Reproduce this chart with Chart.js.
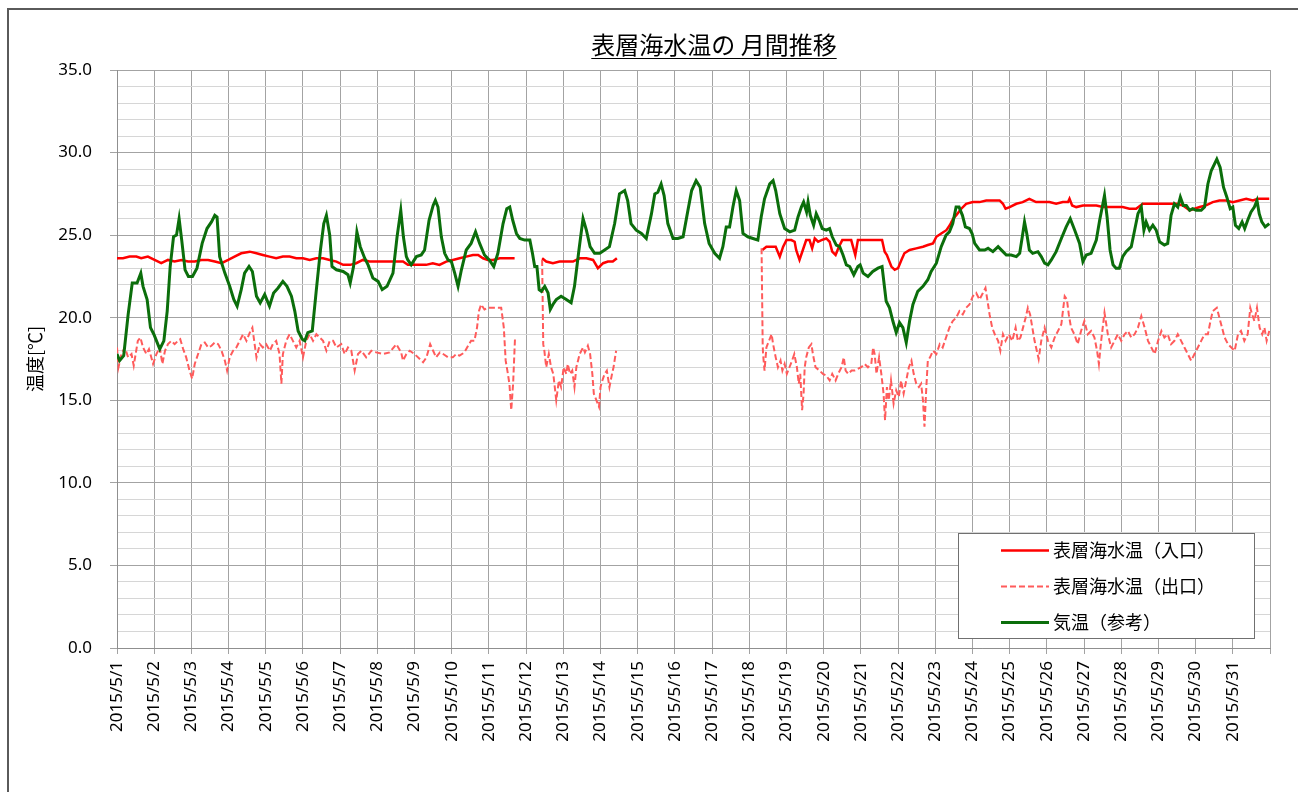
<!DOCTYPE html>
<html lang="ja">
<head>
<meta charset="utf-8">
<title>表層海水温の月間推移</title>
<script src="https://cdn.jsdelivr.net/npm/chart.js@4.4.1/dist/chart.umd.min.js"></script>
<style>
  html, body { margin: 0; padding: 0; background: #fff; }
  #frame { position: absolute; left: 7px; top: 8px; width: 1291px; height: 784px;
           border-left: 2px solid #5a5a5a; border-top: 2px solid #5a5a5a; box-sizing: border-box; }
  #wrap { position: absolute; left: 0; top: 0; width: 1298px; height: 792px; }
</style>
</head>
<body>
<div id="frame"></div>
<div id="wrap"><canvas id="chart" width="1298" height="792"></canvas></div>
<script>
// Chart text
const TITLE = "表層海水温の 月間推移";
const Y_TITLE = "温度[℃]";
const SERIES_NAMES = ["表層海水温（入口）", "表層海水温（出口）", "気温（参考）"];
const DAY_COUNT = 31;   // 2015/5/1 .. 2015/5/31
const Y_MAX = 35;

// x values are days elapsed since 2015/5/1 00:00 (null value = no data)
// 1. Inlet surface water temperature (red, solid)
const inletDays = [
  0.00, 0.16, 0.34, 0.52, 0.65, 0.83, 1.01, 1.19, 1.37, 1.55, 1.73, 1.91, 2.09, 2.27, 2.45, 2.63, 2.81, 2.99,
  3.16, 3.34, 3.57, 3.75, 3.92, 4.10, 4.28, 4.46, 4.64, 4.82, 5.00, 5.18, 5.36, 5.54, 5.72, 5.90, 6.08, 6.27,
  6.43, 6.61, 6.79, 6.97, 7.15, 7.33, 7.51, 7.69, 7.82, 7.96, 8.14, 8.31, 8.49, 8.67, 8.85, 9.03, 9.21, 9.39,
  9.57, 9.71, 9.84, 9.97, 10.11, 10.29, 10.47, 10.69,
  11.00,
  11.43, 11.54, 11.72, 11.90, 12.08, 12.26, 12.44, 12.62, 12.80, 12.93, 13.07, 13.20, 13.33, 13.44,
  15.00,
  17.35, 17.46, 17.60, 17.71, 17.82, 17.91, 18.00, 18.13, 18.22, 18.26, 18.35, 18.44, 18.53, 18.62, 18.69,
  18.76, 18.85, 18.94, 19.07, 19.16, 19.23, 19.32, 19.41, 19.50, 19.61, 19.74, 19.85, 19.92, 20.06, 20.24,
  20.41, 20.57, 20.64, 20.70, 20.75, 20.82, 20.91, 21.00, 21.09, 21.17, 21.31, 21.49, 21.67, 21.80, 21.94,
  22.03, 22.16, 22.30, 22.39, 22.48, 22.56, 22.70, 22.83, 23.01, 23.19, 23.37, 23.55, 23.73, 23.82, 23.89,
  24.00, 24.18, 24.35, 24.53, 24.71, 24.90, 25.07, 25.25, 25.43, 25.57, 25.61, 25.68, 25.79, 25.97, 26.15,
  26.33, 26.51, 26.69, 26.86, 27.04, 27.22, 27.40, 27.58, 27.76, 27.94, 28.12, 28.30, 28.48, 28.66, 28.84,
  28.97, 29.11, 29.28, 29.46, 29.64, 29.82, 30.00, 30.18, 30.36, 30.54, 30.67, 30.81, 30.90, 30.98
];
const inletTemp = [
  23.6, 23.6, 23.7, 23.7, 23.6, 23.7, 23.5, 23.3, 23.5, 23.4, 23.5, 23.4, 23.4, 23.5, 23.5, 23.4, 23.3, 23.5,
  23.7, 23.9, 24.0, 23.9, 23.8, 23.7, 23.6, 23.7, 23.7, 23.6, 23.6, 23.5, 23.6, 23.6, 23.5, 23.4, 23.2, 23.2,
  23.3, 23.5, 23.4, 23.4, 23.4, 23.4, 23.4, 23.4, 23.2, 23.2, 23.2, 23.2, 23.3, 23.2, 23.4, 23.5, 23.6, 23.7,
  23.8, 23.8, 23.6, 23.5, 23.5, 23.6, 23.6, 23.6,
  null,
  23.6, 23.4, 23.3, 23.4, 23.4, 23.4, 23.6, 23.6, 23.5, 23.0, 23.3, 23.4, 23.4, 23.6,
  null,
  24.1, 24.3, 24.3, 24.3, 23.7, 24.3, 24.7, 24.7, 24.6, 24.1, 23.5, 24.1, 24.7, 24.7, 24.2,
  24.8, 24.6, 24.7, 24.8, 24.6, 24.0, 23.8, 24.3, 24.7, 24.7, 24.7, 23.8, 24.7, 24.7, 24.7,
  24.7, 24.7, 24.0, 23.8, 23.5, 23.1, 22.9, 23.0, 23.5, 23.9, 24.1, 24.2, 24.3, 24.4, 24.5,
  24.9, 25.1, 25.3, 25.6, 26.0, 26.2, 26.6, 26.9, 27.0, 27.0, 27.1, 27.1, 27.1, 26.9, 26.6,
  26.7, 26.9, 27.0, 27.2, 27.0, 27.0, 27.0, 26.9, 27.0, 27.0, 27.2, 26.8, 26.7, 26.8, 26.8,
  26.8, 26.7, 26.7, 26.7, 26.7, 26.6, 26.6, 26.9, 26.9, 26.9, 26.9, 26.9, 26.9, 26.8, 26.5,
  26.6, 26.7, 26.8, 27.0, 27.1, 27.1, 27.0, 27.1, 27.2, 27.1, 27.2, 27.2, 27.2, 27.2
];

// 2. Outlet surface water temperature (pink, dashed)
const outletDays = [
  0.00, 0.04, 0.12, 0.21, 0.30, 0.39, 0.45, 0.56, 0.63, 0.70, 0.79, 0.86, 0.97, 1.06, 1.15, 1.22, 1.29, 1.37,
  1.46, 1.55, 1.64, 1.70, 1.78, 1.86, 1.95, 2.02, 2.09, 2.18, 2.27, 2.36, 2.45, 2.54, 2.63, 2.72, 2.81, 2.90,
  2.96, 3.03, 3.12, 3.21, 3.30, 3.39, 3.48, 3.57, 3.64, 3.70, 3.75, 3.84, 3.92, 4.01, 4.11, 4.19, 4.28, 4.37,
  4.42, 4.46, 4.55, 4.64, 4.73, 4.82, 4.91, 5.00, 5.09, 5.18, 5.27, 5.36, 5.45, 5.54, 5.63, 5.72, 5.81, 5.90,
  6.03, 6.12, 6.21, 6.30, 6.39, 6.48, 6.57, 6.70, 6.84, 6.97, 7.15, 7.33, 7.51, 7.64, 7.69, 7.78, 7.87, 8.00,
  8.14, 8.23, 8.32, 8.42, 8.50, 8.58, 8.68, 8.77, 8.90, 9.03, 9.12, 9.21, 9.34, 9.44, 9.52, 9.61, 9.68, 9.73,
  9.79, 9.88, 9.97, 10.11, 10.24, 10.33, 10.40, 10.45, 10.51, 10.55, 10.60, 10.65, 10.70,
  11.00,
  11.43, 11.46, 11.49, 11.54, 11.61, 11.67, 11.73, 11.81, 11.88, 11.94, 12.01, 12.08, 12.12, 12.18, 12.24,
  12.30, 12.35, 12.44, 12.53, 12.58, 12.66, 12.72, 12.78, 12.82, 12.89, 12.96, 13.00, 13.05, 13.11, 13.17,
  13.24, 13.31, 13.35, 13.42,
  15.00,
  17.33, 17.36, 17.37, 17.41, 17.46, 17.53, 17.60, 17.64, 17.71, 17.77, 17.84, 17.89, 17.95, 18.01, 18.08,
  18.15, 18.21, 18.28, 18.33, 18.37, 18.42, 18.46, 18.49, 18.53, 18.60, 18.67, 18.71, 18.78, 18.89, 18.98,
  19.07, 19.16, 19.23, 19.32, 19.39, 19.48, 19.54, 19.59, 19.66, 19.75, 19.83, 19.92, 20.01, 20.10, 20.19,
  20.28, 20.33, 20.37, 20.42, 20.49, 20.55, 20.61, 20.65, 20.70, 20.75, 20.81, 20.88, 20.95, 21.02, 21.08,
  21.15, 21.22, 21.29, 21.36, 21.42, 21.49, 21.56, 21.62, 21.67, 21.71, 21.76, 21.80, 21.86, 21.94, 22.03,
  22.12, 22.20, 22.29, 22.38, 22.47, 22.56, 22.65, 22.74, 22.83, 22.92, 23.01, 23.10, 23.19, 23.28, 23.35,
  23.42, 23.46, 23.53, 23.60, 23.69, 23.75, 23.82, 23.89, 23.98, 24.07, 24.16, 24.22, 24.29, 24.36, 24.43,
  24.49, 24.55, 24.61, 24.67, 24.73, 24.78, 24.85, 24.94, 25.03, 25.12, 25.21, 25.30, 25.39, 25.48, 25.54,
  25.59, 25.65, 25.74, 25.83, 25.92, 26.01, 26.10, 26.19, 26.28, 26.35, 26.40, 26.46, 26.55, 26.64, 26.73,
  26.82, 26.91, 27.00, 27.09, 27.18, 27.27, 27.36, 27.45, 27.54, 27.63, 27.72, 27.81, 27.90, 27.99, 28.08,
  28.16, 28.25, 28.34, 28.43, 28.52, 28.61, 28.70, 28.79, 28.88, 28.97, 29.06, 29.15, 29.24, 29.33, 29.40,
  29.46, 29.57, 29.64, 29.71, 29.78, 29.87, 29.96, 30.05, 30.14, 30.22, 30.31, 30.40, 30.47, 30.52, 30.58,
  30.65, 30.72, 30.79, 30.85, 30.91, 30.98
];
const outletTemp = [
  18.2, 17.0, 17.8, 18.2, 17.6, 17.8, 17.1, 18.6, 18.8, 18.2, 17.8, 18.1, 17.2, 17.8, 18.2, 17.2, 18.0, 18.4,
  18.6, 18.4, 18.6, 18.7, 18.1, 17.6, 16.8, 16.3, 17.2, 17.8, 18.4, 18.5, 18.2, 18.3, 18.5, 18.4, 18.0, 17.4,
  16.8, 17.6, 18.0, 18.2, 18.6, 19.0, 18.6, 19.1, 19.4, 18.4, 17.6, 18.4, 18.2, 18.4, 18.0, 18.4, 18.6, 17.8,
  16.0, 17.8, 18.6, 19.0, 18.6, 18.2, 18.6, 17.6, 18.6, 19.0, 18.6, 19.0, 18.8, 18.6, 18.0, 18.6, 18.6, 18.2,
  18.4, 17.8, 18.2, 18.0, 16.8, 17.8, 18.0, 17.6, 18.0, 17.9, 17.8, 17.9, 18.4, 17.9, 17.4, 17.8, 18.0, 17.8,
  17.5, 17.3, 17.6, 18.4, 18.0, 17.6, 17.9, 17.8, 17.6, 17.6, 17.8, 17.7, 17.9, 18.3, 18.6, 18.6, 19.4, 20.4,
  20.8, 20.5, 20.6, 20.6, 20.6, 20.6, 19.4, 17.4, 16.6, 16.0, 14.4, 16.0, 18.7,
  null,
  23.5, 18.4, 18.0, 17.0, 17.8, 17.0, 16.6, 15.0, 16.2, 15.8, 17.0, 16.6, 17.2, 16.6, 16.8,
  15.8, 17.0, 17.8, 18.2, 17.9, 18.3, 17.8, 16.6, 15.4, 15.0, 14.6, 15.8, 16.2, 16.6, 16.8,
  15.8, 16.6, 17.0, 18.0,
  null,
  24.2, 18.4, 17.8, 16.8, 18.2, 18.6, 19.0, 18.4, 17.6, 17.0, 17.4, 16.8, 17.2, 16.6, 17.0,
  17.4, 17.8, 17.0, 16.0, 16.6, 14.4, 15.4, 17.0, 17.6, 18.2, 18.4, 17.8, 17.0, 16.8, 16.6,
  16.5, 16.2, 16.6, 16.2, 16.6, 17.0, 17.6, 16.8, 16.6, 16.8, 16.8, 16.9, 17.0, 17.2, 17.0,
  17.2, 18.2, 17.8, 16.6, 17.6, 16.6, 15.4, 13.8, 15.8, 15.0, 16.2, 14.8, 15.6, 15.2, 16.2,
  15.4, 16.2, 17.0, 17.4, 16.6, 16.0, 15.8, 16.0, 15.0, 13.4, 15.8, 17.4, 17.6, 18.0, 17.8,
  18.4, 18.2, 18.8, 19.4, 19.8, 20.0, 20.4, 20.2, 20.6, 20.8, 21.3, 21.5, 21.1, 21.5, 21.8,
  20.8, 20.2, 19.4, 19.0, 18.6, 18.0, 19.0, 18.6, 19.0, 18.6, 19.4, 18.6, 18.8, 19.4, 20.0,
  20.6, 20.2, 19.4, 18.6, 18.0, 17.5, 18.6, 19.4, 18.6, 18.2, 18.8, 19.2, 19.6, 21.3, 21.1,
  20.2, 19.4, 19.0, 18.4, 19.2, 19.8, 19.0, 19.2, 18.8, 18.0, 17.2, 18.6, 20.3, 19.0, 18.2,
  18.6, 19.0, 18.6, 19.0, 19.2, 18.8, 19.0, 19.4, 20.1, 19.4, 18.6, 18.2, 17.8, 18.6, 19.2,
  18.8, 19.0, 18.4, 18.6, 19.0, 18.6, 18.2, 17.8, 17.4, 17.8, 18.2, 18.6, 19.0, 19.0, 19.8,
  20.4, 20.6, 20.0, 19.4, 18.8, 18.4, 18.2, 18.0, 19.0, 19.2, 18.6, 19.0, 20.6, 20.2, 19.8,
  20.6, 19.4, 19.0, 19.4, 18.6, 19.2
];

// 3. Air temperature (green, solid)
const airDays = [
  0.00, 0.07, 0.18, 0.30, 0.41, 0.54, 0.64, 0.70, 0.81, 0.90, 0.99, 1.15, 1.26, 1.35, 1.43, 1.52, 1.60, 1.67,
  1.74, 1.83, 1.92, 2.03, 2.15, 2.29, 2.42, 2.54, 2.63, 2.69, 2.76, 2.90, 3.03, 3.14, 3.23, 3.34, 3.43, 3.55,
  3.64, 3.75, 3.85, 3.97, 4.10, 4.21, 4.33, 4.46, 4.57, 4.69, 4.78, 4.87, 4.98, 5.05, 5.13, 5.25, 5.36, 5.47,
  5.56, 5.63, 5.72, 5.78, 5.90, 6.08, 6.21, 6.27, 6.36, 6.45, 6.54, 6.66, 6.75, 6.88, 7.02, 7.13, 7.26, 7.42,
  7.53, 7.63, 7.70, 7.78, 7.82, 7.91, 8.05, 8.18, 8.27, 8.39, 8.50, 8.56, 8.63, 8.72, 8.81, 8.90, 8.99, 9.08,
  9.17, 9.26, 9.39, 9.52, 9.64, 9.75, 9.88, 10.01, 10.13, 10.24, 10.38, 10.48, 10.56, 10.64, 10.74, 10.83, 10.96, 11.10,
  11.17, 11.23, 11.29, 11.35, 11.41, 11.50, 11.59, 11.65, 11.72, 11.81, 11.94, 12.08, 12.21, 12.30, 12.42, 12.53, 12.62, 12.72,
  12.84, 12.98, 13.11, 13.24, 13.38, 13.51, 13.65, 13.73, 13.82, 13.96, 14.10, 14.23, 14.37, 14.46, 14.54, 14.63, 14.71, 14.81,
  14.95, 15.08, 15.22, 15.35, 15.45, 15.57, 15.68, 15.80, 15.92, 16.07, 16.20, 16.29, 16.38, 16.47, 16.56, 16.65, 16.74, 16.83,
  16.96, 17.10, 17.23, 17.32, 17.41, 17.55, 17.64, 17.71, 17.82, 17.95, 18.09, 18.22, 18.31, 18.40, 18.46, 18.54, 18.58, 18.64,
  18.73, 18.80, 18.88, 18.96, 19.07, 19.16, 19.23, 19.34, 19.43, 19.52, 19.61, 19.70, 19.81, 19.92, 19.98, 20.06, 20.19, 20.32,
  20.46, 20.57, 20.68, 20.77, 20.86, 20.95, 21.04, 21.13, 21.22, 21.31, 21.40, 21.53, 21.67, 21.80, 21.89, 22.03, 22.16, 22.29,
  22.38, 22.47, 22.56, 22.64, 22.73, 22.81, 22.92, 22.99, 23.06, 23.19, 23.33, 23.42, 23.55, 23.69, 23.82, 23.91, 24.04, 24.18,
  24.27, 24.34, 24.40, 24.46, 24.53, 24.62, 24.76, 24.85, 24.94, 25.03, 25.12, 25.25, 25.39, 25.52, 25.63, 25.75, 25.88, 25.97,
  26.06, 26.19, 26.33, 26.42, 26.49, 26.55, 26.62, 26.70, 26.78, 26.86, 26.95, 27.04, 27.13, 27.27, 27.36, 27.45, 27.54, 27.61,
  27.67, 27.76, 27.85, 27.94, 28.03, 28.16, 28.25, 28.34, 28.43, 28.52, 28.59, 28.67, 28.75, 28.84, 28.92, 29.01, 29.15, 29.24,
  29.33, 29.42, 29.57, 29.66, 29.75, 29.84, 29.93, 30.00, 30.07, 30.16, 30.25, 30.32, 30.40, 30.49, 30.58, 30.65, 30.71, 30.78,
  30.87, 30.98
];
const airTemp = [
  17.8, 17.4, 17.7, 20.2, 22.1, 22.1, 22.7, 21.9, 21.1, 19.4, 19.0, 18.1, 18.6, 20.4, 23.1, 24.9, 25.0, 26.0,
  24.7, 22.9, 22.5, 22.5, 23.0, 24.5, 25.4, 25.8, 26.2, 26.1, 23.7, 22.7, 21.9, 21.1, 20.7, 21.7, 22.7, 23.1,
  22.8, 21.3, 20.9, 21.4, 20.7, 21.5, 21.8, 22.2, 21.9, 21.3, 20.4, 19.2, 18.7, 18.6, 19.1, 19.2, 21.7, 24.1,
  25.7, 26.2, 25.0, 23.1, 22.9, 22.8, 22.6, 22.1, 23.1, 25.2, 24.3, 23.6, 23.2, 22.4, 22.2, 21.7, 21.9, 22.7,
  24.9, 26.5, 24.9, 23.7, 23.5, 23.2, 23.7, 23.8, 24.1, 25.9, 26.8, 27.1, 26.7, 24.9, 23.9, 23.5, 23.4, 22.7,
  21.9, 22.9, 24.1, 24.5, 25.2, 24.5, 23.8, 23.5, 23.1, 23.9, 25.7, 26.6, 26.7, 25.9, 25.1, 24.8, 24.7, 24.7,
  23.9, 23.1, 23.1, 21.7, 21.6, 21.9, 21.5, 20.5, 20.8, 21.1, 21.3, 21.1, 20.9, 21.9, 24.1, 26.0, 25.3, 24.3,
  23.9, 23.9, 24.1, 24.3, 25.7, 27.5, 27.7, 27.1, 25.7, 25.3, 25.1, 24.8, 26.3, 27.5, 27.6, 28.1, 27.4, 25.7,
  24.8, 24.8, 24.9, 26.5, 27.7, 28.3, 27.9, 25.7, 24.5, 23.9, 23.6, 24.3, 25.5, 25.5, 26.7, 27.7, 27.1, 25.1,
  24.9, 24.8, 24.7, 26.1, 27.2, 28.1, 28.3, 27.7, 26.3, 25.4, 25.2, 25.3, 26.1, 26.7, 27.0, 26.4, 27.0, 26.2,
  25.6, 26.3, 25.9, 25.4, 25.3, 25.4, 24.9, 24.4, 24.3, 23.8, 23.2, 23.1, 22.6, 23.1, 23.2, 22.7, 22.5, 22.8,
  23.0, 23.1, 21.0, 20.6, 19.8, 19.1, 19.7, 19.4, 18.5, 19.8, 20.8, 21.6, 21.9, 22.3, 22.8, 23.3, 24.3, 25.0,
  25.2, 25.7, 26.7, 26.7, 26.2, 25.5, 25.4, 25.1, 24.5, 24.1, 24.1, 24.2, 24.0, 24.3, 24.0, 23.8, 23.8, 23.7,
  23.9, 24.9, 25.8, 25.1, 24.1, 23.9, 24.0, 23.7, 23.3, 23.2, 23.5, 24.0, 24.8, 25.5, 26.0, 25.3, 24.5, 23.4,
  23.8, 23.9, 24.7, 25.9, 26.7, 27.4, 26.1, 24.1, 23.2, 23.0, 23.0, 23.7, 24.0, 24.3, 25.3, 26.3, 26.7, 25.3,
  25.8, 25.3, 25.6, 25.3, 24.6, 24.4, 24.5, 26.2, 26.9, 26.7, 27.3, 26.8, 26.8, 26.5, 26.6, 26.5, 26.5, 26.7,
  28.1, 28.9, 29.6, 29.1, 27.9, 27.3, 26.6, 26.7, 25.6, 25.4, 25.8, 25.4, 25.9, 26.4, 26.7, 27.1, 26.3, 25.8,
  25.5, 25.7
];

// Build {x, y} points for the library
function toPoints(days, temps) {
  return days.map((d, i) => ({ x: d, y: temps[i] }));
}

const FONT_JP = "'Noto Sans CJK JP', 'Noto Sans', sans-serif";
const FONT_NUM = "'Noto Sans', 'DejaVu Sans', sans-serif";

// Title with underline (drawn over the plot centre like the original sheet)
const titlePlugin = {
  id: 'titleUnderline',
  afterDraw(chart) {
    const ctx = chart.ctx;
    const cx = 714, cy = 45;
    ctx.save();
    ctx.font = "24px " + FONT_JP;
    ctx.fillStyle = "#000";
    ctx.textAlign = "center";
    ctx.textBaseline = "middle";
    ctx.fillText(TITLE, cx, cy);
    const w = ctx.measureText(TITLE).width;
    ctx.strokeStyle = "#000";
    ctx.lineWidth = 1;
    ctx.beginPath();
    ctx.moveTo(cx - w / 2, cy + 13.5);
    ctx.lineTo(cx + w / 2, cy + 13.5);
    ctx.stroke();
    ctx.restore();
  }
};

// Boxed legend inside the plot area, bottom right
const legendPlugin = {
  id: 'boxLegend',
  afterDraw(chart) {
    const ctx = chart.ctx;
    const bx = 958.5, by = 533.5, bw = 296, bh = 105;
    ctx.save();
    ctx.fillStyle = "#fff";
    ctx.fillRect(bx, by, bw, bh);
    ctx.strokeStyle = "#707070";
    ctx.lineWidth = 1;
    ctx.strokeRect(bx, by, bw, bh);
    ctx.font = "18px " + FONT_JP;
    ctx.textBaseline = "middle";
    ctx.textAlign = "left";
    chart.data.datasets.forEach((ds, i) => {
      const y = by + 17 + i * 36;
      ctx.strokeStyle = ds.borderColor;
      ctx.lineWidth = ds.borderWidth;
      ctx.setLineDash(ds.borderDash || []);
      ctx.beginPath();
      ctx.moveTo(1001, y);
      ctx.lineTo(1049, y);
      ctx.stroke();
      ctx.setLineDash([]);
      ctx.fillStyle = "#000";
      ctx.fillText(ds.label, 1053, y);
    });
    ctx.restore();
  }
};

new Chart(document.getElementById('chart'), {
  type: 'line',
  data: {
    datasets: [
      {
        label: SERIES_NAMES[0],
        data: toPoints(inletDays, inletTemp),
        borderColor: '#ff0000',
        borderWidth: 2.5,
        order: 3
      },
      {
        label: SERIES_NAMES[1],
        data: toPoints(outletDays, outletTemp),
        borderColor: '#ff5b5b',
        borderWidth: 2,
        borderDash: [6, 3],
        order: 2
      },
      {
        label: SERIES_NAMES[2],
        data: toPoints(airDays, airTemp),
        borderColor: '#0b6e0b',
        borderWidth: 3,
        order: 1
      }
    ]
  },
  options: {
    responsive: false,
    animation: false,
    devicePixelRatio: 1,
    spanGaps: false,
    elements: { point: { radius: 0 }, line: { tension: 0, fill: false } },
    layout: { padding: { left: 24, right: 28, top: 70, bottom: 10 } },
    plugins: {
      legend: { display: false },
      tooltip: { enabled: false },
      title: { display: false }
    },
    scales: {
      x: {
        type: 'linear',
        min: 0,
        max: DAY_COUNT,
        afterFit: s => { s.height = 134; },
        grid: { color: '#a3a3a3', tickColor: '#a3a3a3', tickLength: 6 },
        border: { color: '#8f8f8f' },
        ticks: {
          stepSize: 1,
          autoSkip: false,
          minRotation: 90,
          maxRotation: 90,
          padding: 7,
          color: '#000',
          font: { family: FONT_NUM, size: 17 },
          callback: v => (v < DAY_COUNT ? '2015/5/' + (v + 1) : '')
        }
      },
      y: {
        min: 0,
        max: Y_MAX,
        afterFit: s => { s.width = 93; },
        grid: {
          color: c => (c.tick && c.tick.value % 5 === 0 ? '#a3a3a3' : '#d6d6d6'),
          tickColor: c => (c.tick && c.tick.value % 5 === 0 ? '#a3a3a3' : 'rgba(0,0,0,0)'),
          tickLength: 7
        },
        border: { color: '#8f8f8f' },
        title: {
          display: true,
          text: Y_TITLE,
          color: '#000',
          font: { family: FONT_JP, size: 18 },
          padding: { top: 0, bottom: 0 }
        },
        ticks: {
          stepSize: 1,
          autoSkip: false,
          padding: 18,
          color: '#000',
          font: { family: FONT_NUM, size: 17 },
          callback: v => (v % 5 === 0 ? v.toFixed(1) : '')
        }
      }
    }
  },
  plugins: [titlePlugin, legendPlugin]
});
</script>
</body>
</html>
